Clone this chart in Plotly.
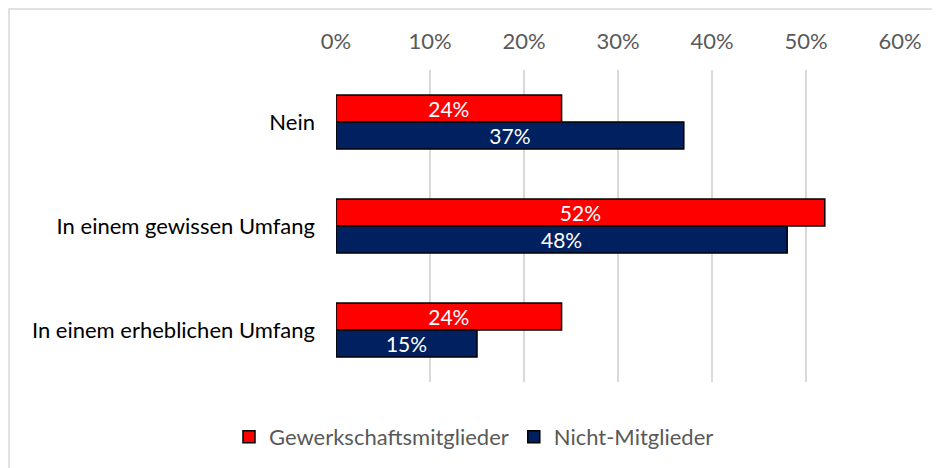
import plotly.graph_objects as go

categories = ["Nein", "In einem gewissen Umfang", "In einem erheblichen Umfang"]
series_names = ["Gewerkschaftsmitglieder", "Nicht-Mitglieder"]
gewerkschaft = [24, 52, 24]
nicht_mitglieder = [37, 48, 15]
tick_vals = [0, 10, 20, 30, 40, 50, 60]
tick_text = ["0%", "10%", "20%", "30%", "40%", "50%", "60%"]

colors = ["#FF0000", "#002060"]
FONT = "Lato"

fig = go.Figure()
for name, vals, col in zip(series_names, [gewerkschaft, nicht_mitglieder], colors):
    fig.add_trace(go.Bar(
        y=categories, x=vals, name=name, orientation="h",
        marker=dict(color=col, line=dict(color="black", width=1.5)),
        text=[f"{v}%" for v in vals], textposition="inside",
        insidetextanchor="middle",
        textfont=dict(color="white", size=21, family=FONT),
        hoverinfo="skip",
    ))

# page is offset by the default 8px body margin
OFF = 8
W, H = 940 - OFF, 468 - OFF
L, R, T, B = 336 - OFF, 40, 70 - OFF, 86
pw, ph = W - L - R, H - T - B

def px(x):
    return (x - OFF - L) / pw

def py(y):
    return (H - B - (y - OFF)) / ph

fig.update_layout(
    width=W, height=H,
    margin=dict(l=L, r=R, t=T, b=B, autoexpand=False),
    paper_bgcolor="white", plot_bgcolor="white",
    barmode="group", bargap=0.48, bargroupgap=0,
    uniformtext=dict(minsize=21, mode="show"),
    font=dict(family=FONT, size=22, color="#000000"),
    showlegend=True,
    legend=dict(orientation="h", x=px(474), xanchor="center", y=py(437), yanchor="middle",
                font=dict(size=22, color="#595959", family=FONT),
                itemwidth=30, traceorder="normal"),
    xaxis=dict(range=[0, 60], side="top", tickvals=tick_vals, ticktext=tick_text,
               showgrid=True, gridcolor="#D9D9D9", gridwidth=1.5,
               zeroline=False, showline=False, automargin=False,
               tickfont=dict(size=22, color="#595959", family=FONT),
               ticks="", ticklabelstandoff=16),
    yaxis=dict(autorange="reversed", showgrid=False, zeroline=False, showline=False,
               automargin=False,
               tickfont=dict(size=22, color="#000000", family=FONT),
               ticks="", ticklabelstandoff=20),
    shapes=[dict(type="rect", xref="paper", yref="paper",
                 x0=px(9), x1=px(945), y0=py(475), y1=py(9),
                 line=dict(color="#D9D9D9", width=1.5), layer="below")],
)

fig.write_html("out.html")
